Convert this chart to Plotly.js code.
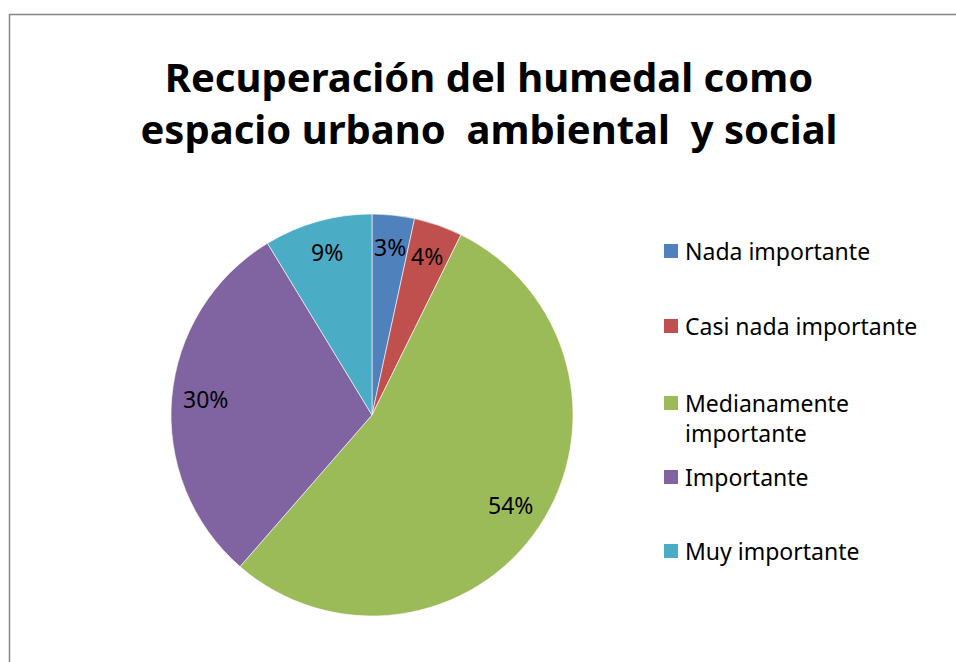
<!DOCTYPE html>
<html>
<head>
<meta charset="utf-8">
<script src="https://cdn.plot.ly/plotly-3.0.1.min.js"></script>
<style>
html,body{margin:0;padding:0;background:#fff;}
#chart{width:956px;height:662px;}
</style>
</head>
<body>
<div id="chart"></div>
<script>
const categories = ["Nada importante", "Casi nada importante", "Medianamente importante", "Importante", "Muy importante"];
const legendLabels = ["Nada importante", "Casi nada importante", "Medianamente<br>importante", "Importante", "Muy importante"];
const values = [3.4, 3.9, 54.1, 29.9, 8.7];
const colors = ["#4F81BD", "#C0504D", "#9BBB59", "#8064A2", "#4BACC6"];
const titleText = "Recuperación del humedal como<br>espacio urbano&nbsp; ambiental&nbsp; y social";

const W = 956, H = 662;
const cx = 372, cy = 415, R = 201;
const fontFam = "'Noto Sans', 'Open Sans', sans-serif";

const total = values.reduce((a, b) => a + b, 0);
const annotations = [];
let cum = 0;
values.forEach((v, i) => {
  const mid = (cum + v / 2) / total;
  cum += v;
  const ang = mid * 2 * Math.PI;
  const r = 0.83 * R;
  const px = cx + r * Math.sin(ang);
  const py = cy - r * Math.cos(ang) - 2;
  annotations.push({
    x: px / W, y: 1 - py / H, xref: 'paper', yref: 'paper',
    text: Math.round(v / total * 100) + '%', showarrow: false,
    font: {family: fontFam, size: 23, color: '#000'},
    xanchor: 'center', yanchor: 'middle'
  });
});

// manual legend
const legendY = [251, 326, 418, 477, 551];
const shapes = [];
categories.forEach((c, i) => {
  const sy = (i === 2) ? 403 : legendY[i];
  shapes.push({
    type: 'rect', xref: 'paper', yref: 'paper',
    x0: 664 / W, x1: 678 / W, y0: 1 - (sy + 7) / H, y1: 1 - (sy - 7) / H,
    fillcolor: colors[i], line: {width: 0}
  });
  annotations.push({
    x: 683 / W, y: 1 - legendY[i] / H, xref: 'paper', yref: 'paper',
    text: legendLabels[i], showarrow: false, align: 'left',
    font: {family: fontFam, size: 23, color: '#000'},
    xanchor: 'left', yanchor: 'middle'
  });
});

// outer frame
shapes.push({
  type: 'rect', xref: 'paper', yref: 'paper',
  x0: 9.5 / W, x1: 1.01, y0: -0.01, y1: 1 - 14.5 / H,
  line: {color: '#868686', width: 1.5}, fillcolor: 'rgba(0,0,0,0)'
});

const data = [{
  type: 'pie',
  labels: categories,
  values: values,
  sort: false,
  direction: 'clockwise',
  rotation: 0,
  textinfo: 'none',
  hoverinfo: 'label+percent',
  marker: {colors: colors, line: {color: '#ffffff', width: 0.6}},
  domain: {x: [(cx - R) / W, (cx + R) / W], y: [1 - (cy + R) / H, 1 - (cy - R) / H]},
  showlegend: false
}];

const layout = {
  width: W, height: H,
  margin: {l: 0, r: 0, t: 0, b: 0},
  paper_bgcolor: '#fff',
  title: {
    text: titleText,
    font: {family: fontFam, size: 40, color: '#000', weight: 'bold'},
    x: 489 / W, xanchor: 'center', xref: 'paper',
    y: 1 - 92 / H, yanchor: 'middle', yref: 'paper'
  },
  annotations: annotations,
  shapes: shapes,
  showlegend: false
};

Plotly.newPlot('chart', data, layout, {displayModeBar: false, staticPlot: true});
</script>
</body>
</html>
